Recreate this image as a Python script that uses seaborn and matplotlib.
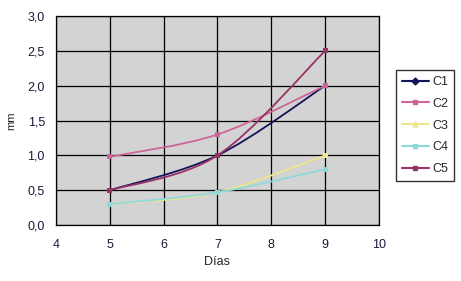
import matplotlib
matplotlib.use("Agg")
import matplotlib.pyplot as plt
import seaborn as sns
import pandas as pd
from matplotlib.path import Path
from matplotlib.patches import PathPatch
from matplotlib.lines import Line2D
from matplotlib.ticker import FuncFormatter

# data
days = [5, 7, 9]
c1 = [0.5, 1.0, 2.0]
c2 = [0.98, 1.3, 2.0]
c3 = [0.3, 0.47, 1.0]
c4 = [0.3, 0.47, 0.8]
c5 = [0.5, 1.0, 2.5]
series_names = ["C1", "C2", "C3", "C4", "C5"]

colors = ["#14145a", "#cc6699", "#eee68a", "#8fd8dc", "#993366"]
markers = ["D", "s", "^", "s", "s"]

sns.set_style("white")
plt.rcParams["font.family"] = ["Liberation Sans", "DejaVu Sans"]


def smooth_path(xs, ys):
    # Excel style smoothed line: cubic bezier segments with catmull-rom control points
    pts = list(zip(xs, ys))
    verts = [pts[0]]
    codes = [Path.MOVETO]
    for i in range(len(pts) - 1):
        p0 = pts[i - 1] if i > 0 else pts[i]
        p1 = pts[i]
        p2 = pts[i + 1]
        p3 = pts[i + 2] if i + 2 < len(pts) else pts[i + 1]
        ctrl1 = (p1[0] + (p2[0] - p0[0]) / 6, p1[1] + (p2[1] - p0[1]) / 6)
        ctrl2 = (p2[0] - (p3[0] - p1[0]) / 6, p2[1] - (p3[1] - p1[1]) / 6)
        verts += [ctrl1, ctrl2, p2]
        codes += [Path.CURVE4] * 3
    return Path(verts, codes)


fig = plt.figure(figsize=(4.61, 2.81), dpi=100)
ax = fig.add_axes([0.1215, 0.199, 0.7005, 0.744])
ax.set_facecolor("#d3d3d3")

all_values = [c1, c2, c3, c4, c5]
for name, vals, col, mk in zip(series_names, all_values, colors, markers):
    ax.add_patch(PathPatch(smooth_path(days, vals), facecolor="none", edgecolor=col,
                           linewidth=1.3, zorder=3))
    df = pd.DataFrame({"dias": days, "mm": vals})
    sns.scatterplot(data=df, x="dias", y="mm", ax=ax, color=col, marker="s", s=14,
                    edgecolor="none", zorder=4, legend=False)

ax.set_xlim(4, 10)
ax.set_ylim(0, 3)
ax.set_xticks(range(4, 11))
ax.set_yticks([0, 0.5, 1.0, 1.5, 2.0, 2.5, 3.0])
ax.yaxis.set_major_formatter(FuncFormatter(lambda v, p: f"{v:.1f}".replace(".", ",")))
ax.grid(True, color="black", linewidth=0.9)
ax.set_axisbelow(True)
for sp in ax.spines.values():
    sp.set_color("black")
    sp.set_linewidth(0.9)

ax.tick_params(axis="both", labelsize=9, colors="#1a1a3a", length=3, width=0.8)
ax.tick_params(axis="x", direction="in", pad=10)
ax.tick_params(axis="y", direction="out", pad=5)
ax.set_xlabel("Días", fontsize=9, labelpad=3.5)
ax.set_ylabel("mm", fontsize=8, labelpad=8)

handles = [Line2D([0], [0], color=col, marker=mk, markersize=3.5, linewidth=1.5)
           for col, mk in zip(colors, markers)]
leg = fig.legend(handles, series_names, loc="center left", bbox_to_anchor=(0.859, 0.553),
                 fontsize=9, frameon=True, fancybox=False, edgecolor="black",
                 handlelength=2.2, handletextpad=0.3, labelspacing=0.78, borderpad=0.45,
                 borderaxespad=0)
leg.get_frame().set_linewidth(1.0)

fig.savefig("out.png", dpi=100)
